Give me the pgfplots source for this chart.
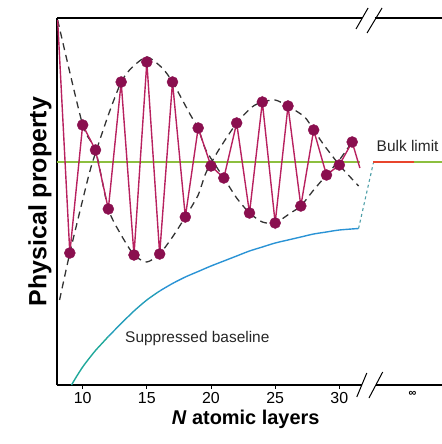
\documentclass[border=0pt]{standalone}
\usepackage{fontspec}
\setmainfont{Liberation Sans}
\usepackage{pgfplots}
\pgfplotsset{compat=1.18}
\definecolor{crimline}{HTML}{B8215F}
\definecolor{crimmark}{HTML}{8A0F4F}
\definecolor{bulkgreen}{HTML}{8CBF3F}
\definecolor{bulkred}{HTML}{E8452C}
\definecolor{baseteal}{HTML}{1FA89A}
\definecolor{basemid}{HTML}{249DBA}
\definecolor{baseblue}{HTML}{2A93D5}
\definecolor{connteal}{HTML}{4F9FA8}
\definecolor{envgray}{HTML}{333333}

\begin{document}
\begin{tikzpicture}
\begin{axis}[
    scale only axis, width=385bp, height=367bp,
    xmin=8, xmax=38, ymin=0, ymax=367,
    clip=false,
    axis x line*=bottom, axis y line*=left,
    axis line style={-, line width=1.3pt, black},
    xtick={10,15,20,25,30}, ytick=\empty,
    tick align=outside, major tick length=4pt,
    tick style={line width=1pt, black},
    extra x ticks={35.7}, extra x tick labels={\textbf{∞}},
    extra x tick style={major tick length=0pt,
        tick label style={font=\fontsize{11}{11}\selectfont, yshift=-3bp}},
    tick label style={font=\fontsize{16}{16}\selectfont},
    /pgf/number format/assume math mode=true,
    xlabel={\textbf{\textit{N} atomic layers}},
    xlabel style={font=\fontsize{20}{20}\selectfont, at={(axis description cs:0.49,0)}, anchor=north, yshift=-22bp},
    ylabel={\textbf{Physical property}},
    ylabel style={font=\fontsize{25}{25}\selectfont, at={(axis description cs:0,0.5)}, anchor=south, yshift=2bp},
]
% top spine
\addplot[black, line width=1.3pt] coordinates {(8,367) (31.8,367)};
\addplot[black, line width=1.3pt] coordinates {(32.75,367) (38,367)};
% gap in bottom spine
\addplot[draw=none, fill=white] coordinates {(31.75,-2) (32.85,-2) (32.85,2) (31.75,2)} -- cycle;
% break marks
\addplot[black, line width=1pt] coordinates {(31.30,356) (32.24,377)};
\addplot[black, line width=1pt] coordinates {(32.16,352) (33.33,377)};
\addplot[black, line width=1pt] coordinates {(31.36,-12) (32.14,12)};
\addplot[black, line width=1pt] coordinates {(32.31,-13) (33.38,13)};

% bulk limit
\addplot[bulkgreen, line width=1.1pt] coordinates {(8,223) (31.6,223)};
\addplot[bulkred, line width=1.1pt] coordinates {(32.65,223) (35.8,223)};
\addplot[bulkgreen, line width=1.1pt] coordinates {(35.8,223) (38,223)};

% suppressed baseline
\addplot[baseteal, line width=1.4pt, smooth] coordinates {
(9.13,0) (9.5,8) (10,18) (10.5,26.5) (11,34.5) (11.5,41.5) (12,48.5)};
\addplot[basemid, line width=1.4pt, smooth] coordinates {
(12,48.5) (12.5,55) (13,61.5) (14,74) (15,85) (16,94)};
\addplot[baseblue, line width=1.4pt, smooth] coordinates {
(16,94) (17,101.5) (18,108) (19,113.5) (20,119) (21,124) (22,129) (23,134)
(24,138) (25,142) (26,145) (27,148) (28,151) (29,153) (30,155) (31.5,156.5)};
\addplot[connteal, line width=1.1pt, dashed] coordinates {(31.5,156.5) (32.65,222)};

% envelopes
\addplot[envgray, line width=1.3pt, dash pattern=on 7pt off 5pt, smooth, tension=0.4] coordinates {
(8.05,365) (10,260) (11,235) (12,176) (13,150) (14,130) (15,123) (16,131)
(17,148) (18,168) (19,190) (19.6,212) (20.6,235) (22,262) (23.2,278)
(24,283) (25,285) (26,279) (27.3,268) (28,255) (28.8,240) (30,220)
(30.7,210) (31.5,199)};
\addplot[envgray, line width=1.3pt, dash pattern=on 7pt off 5pt, smooth, tension=0.4] coordinates {
(8.2,85) (9,132) (10,185) (10.7,220) (12,270) (13,303) (13.8,317) (15,328)
(16.2,317) (17,303) (18.4,270) (19,257) (19.6,235) (21,207) (22,187)
(23,172) (24,163) (25,162) (26.2,172) (27,179) (28,195) (29,210) (30,225)
(31,243)};

% oscillating property
\addplot[crimline, line width=1.4pt] coordinates {
(8.05,365) (9,132) (10,260) (11,235) (12,176) (13,303) (14,130) (15,323)
(16,131) (17,303) (18,168) (19,257) (20,219) (21,207) (22,262) (23,172)
(24,283) (25,162) (26,279) (27,179) (28,255) (29,210) (30,220) (31,243)
(31.6,217)};
\addplot[only marks, mark=*, mark size=5.5bp, mark options={fill=crimmark, draw=crimmark}] coordinates {
(9,132) (10,260) (11,235) (12,176) (13,303) (14,130) (15,323)
(16,131) (17,303) (18,168) (19,257) (20,219) (21,207) (22,262) (23,172)
(24,283) (25,162) (26,279) (27,179) (28,255) (29,210) (30,220) (31,243)};

\node[anchor=west, font=\fontsize{15.5}{15.5}\selectfont, text=black!85, inner sep=0pt] at (axis cs:32.9,239) {Bulk limit};
\node[anchor=west, font=\fontsize{15.5}{15.5}\selectfont, text=black!85, inner sep=0pt] at (axis cs:13.3,46) {Suppressed baseline};
\end{axis}
\pgfresetboundingbox
\path[use as bounding box] ([xshift=-57bp, yshift=-59bp]current axis.south west) rectangle ([yshift=18bp]current axis.north east);
\end{tikzpicture}
\end{document}
